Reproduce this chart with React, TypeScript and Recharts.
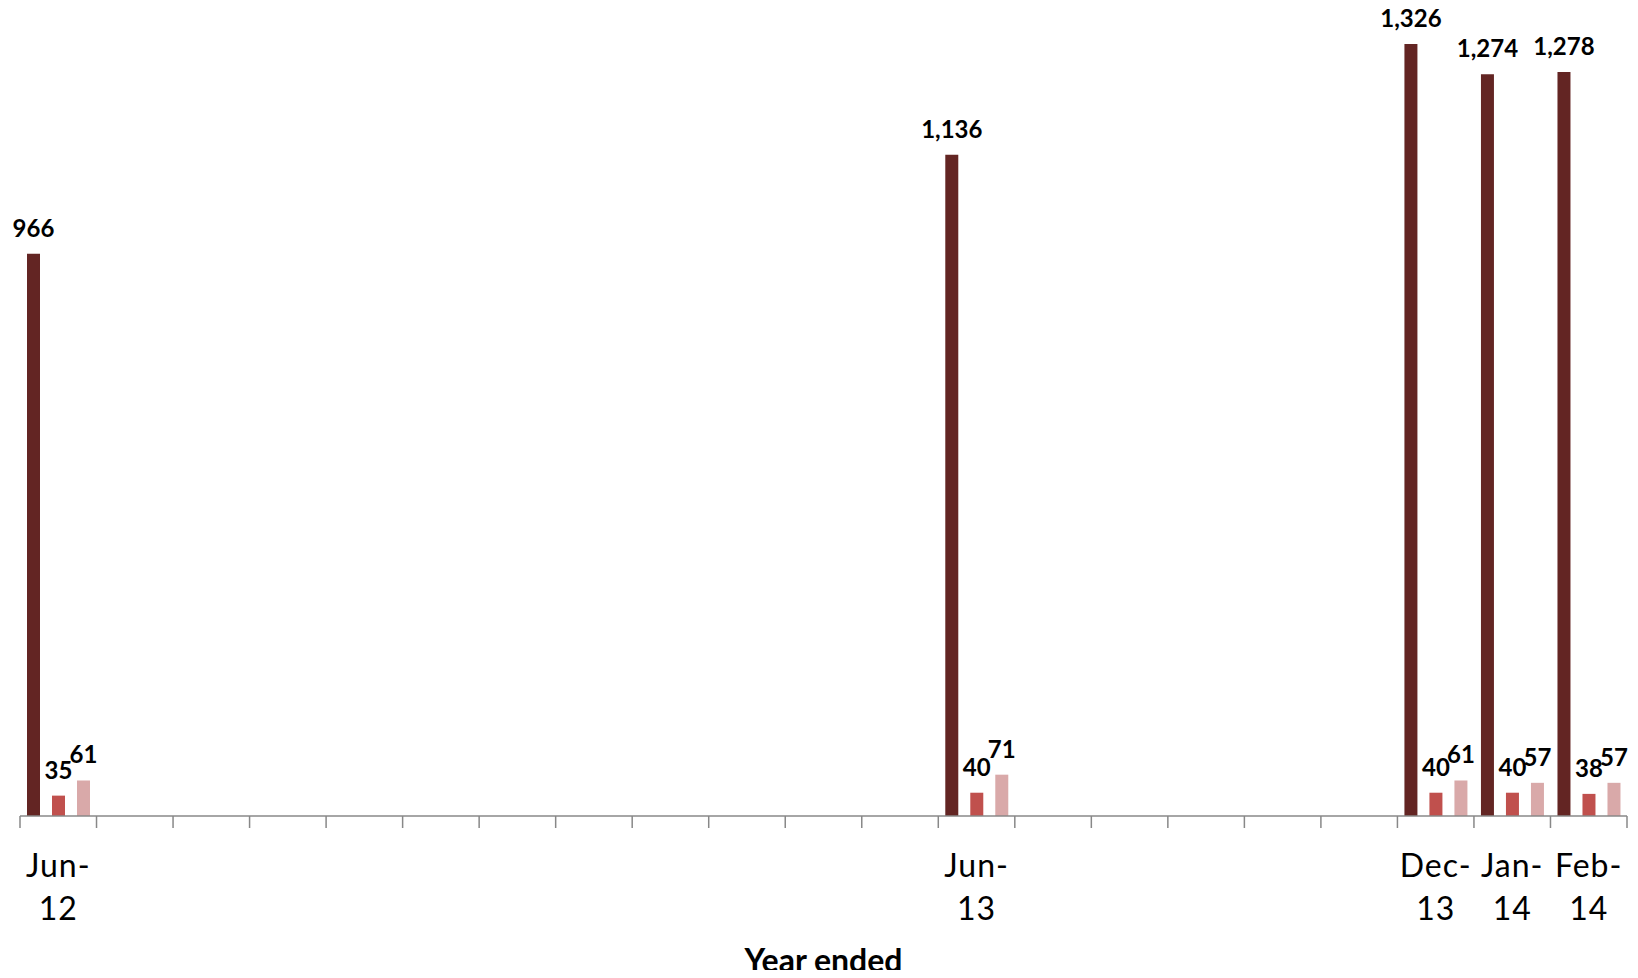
import React from 'react';
import { BarChart, Bar, XAxis, YAxis, LabelList } from 'recharts';

const months = [
  'Jun-12', 'Jul-12', 'Aug-12', 'Sep-12', 'Oct-12', 'Nov-12', 'Dec-12',
  'Jan-13', 'Feb-13', 'Mar-13', 'Apr-13', 'May-13', 'Jun-13', 'Jul-13',
  'Aug-13', 'Sep-13', 'Oct-13', 'Nov-13', 'Dec-13', 'Jan-14', 'Feb-14',
];
const seriesA: (number | null)[] = [966, null, null, null, null, null, null, null, null, null, null, null, 1136, null, null, null, null, null, 1326, 1274, 1278];
const seriesB: (number | null)[] = [35, null, null, null, null, null, null, null, null, null, null, null, 40, null, null, null, null, null, 40, 40, 38];
const seriesC: (number | null)[] = [61, null, null, null, null, null, null, null, null, null, null, null, 71, null, null, null, null, null, 61, 57, 57];
const axisTitle = 'Year ended';

const data = months.map((m, i) => ({ month: m, a: seriesA[i], b: seriesB[i], c: seriesC[i] }));

const W = 1638;
const H = 978;
const M = { top: 1, right: 11, left: 20, bottom: 0 };
const AXIS_H = 162;
const FONT = 'Lato, "Open Sans", sans-serif';

const fmt = (v: any) => (v == null ? '' : Number(v).toLocaleString('en-US'));

const Tick = (props: any) => {
  const { x, y, payload, index } = props;
  const band = (W - M.left - M.right) / months.length;
  const half = payload && typeof payload.offset === 'number' && payload.offset > 0 ? payload.offset : band / 2;
  const i = typeof index === 'number' ? index : months.indexOf(payload.value);
  const hasData = seriesA[i] != null;
  const [l1, l2] = String(payload.value).split('-');
  return (
    <g>
      <line x1={x - half} x2={x - half} y1={y} y2={y + 12} stroke="#888" strokeWidth={1.5} />
      {i === months.length - 1 && (
        <line x1={x + half} x2={x + half} y1={y} y2={y + 12} stroke="#888" strokeWidth={1.5} />
      )}
      {hasData && (
        <text textAnchor="middle" fontFamily={FONT} fontSize={32} fill="#000" letterSpacing={1}>
          <tspan x={x} y={y + 61}>{l1 + '-'}</tspan>
          <tspan x={x} y={y + 104}>{l2}</tspan>
        </text>
      )}
    </g>
  );
};

const AxisTitle = (props: any) => {
  const vb = props.viewBox || {};
  const cx = (vb.x ?? M.left) + (vb.width ?? W - M.left - M.right) / 2;
  const by = (vb.y ?? H - AXIS_H) + (vb.height ?? AXIS_H) - 6;
  return (
    <text x={cx} y={by} textAnchor="middle" fontFamily={FONT} fontSize={32} fontWeight={700} fill="#000">
      {axisTitle}
    </text>
  );
};

const labelStyle = { fontFamily: FONT, fontSize: 24, fontWeight: 700, fill: '#000' };

export default function App() {
  return (
    <div style={{ margin: -8, width: W, height: H, background: '#fff' }}>
      <BarChart width={W} height={H} data={data} margin={M} barSize={13} barGap={12}>
        <XAxis
          dataKey="month"
          height={AXIS_H}
          interval={0}
          tickLine={false}
          tickSize={0}
          tickMargin={0}
          axisLine={{ stroke: '#888', strokeWidth: 1.5 }}
          tick={<Tick />}
          label={<AxisTitle />}
        />
        <YAxis hide domain={[0, 1400]} />
        <Bar dataKey="a" fill="#632523" isAnimationActive={false}>
          <LabelList dataKey="a" position="top" offset={17} formatter={fmt} style={labelStyle} />
        </Bar>
        <Bar dataKey="b" fill="#C0504D" isAnimationActive={false}>
          <LabelList dataKey="b" position="top" offset={17} formatter={fmt} style={labelStyle} />
        </Bar>
        <Bar dataKey="c" fill="#D9A9A9" isAnimationActive={false}>
          <LabelList dataKey="c" position="top" offset={17} formatter={fmt} style={labelStyle} />
        </Bar>
      </BarChart>
    </div>
  );
}
